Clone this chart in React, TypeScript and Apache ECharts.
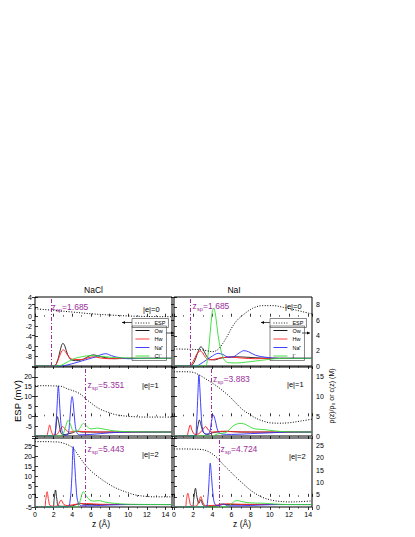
import React, { useEffect, useRef } from "react";
import * as echarts from "echarts";

const FONT = '"Liberation Sans", Arial, Helvetica, sans-serif';
const PURPLE = "#9a2f9a";

// ---------- axes / ticks ----------
const zTicks = [0, 2, 4, 6, 8, 10, 12, 14];
const zMaxNaCl = 14.7;
const zMaxNaI = 14.4;
const espRangeRows = [[-10, 4], [-10, 25], [-5, 29]];
const espIntervalRows = [2, 5, 5];
const espTickLabelRows = [[-8, -6, -4, -2, 0, 2, 4], [-5, 0, 5, 10, 15, 20], [-5, 0, 5, 10, 15, 20, 25]];
const rhoRangeRows = [[0, 9], [0, 17.5], [0, 28]];
const rhoIntervalRows = [2, 5, 5];
const rhoTickLabelRows = [[0, 2, 4, 6, 8], [0, 5, 10, 15], [0, 5, 10, 15, 20, 25]];

const saltNames = ["NaCl", "NaI"];
const chargeLabels = ["|e|=0", "|e|=1", "|e|=2"];
const zspNaCl = [1.685, 5.351, 5.443];
const zspNaI = [1.685, 3.883, 4.724];
const anionNames = ["Cl⁻", "I⁻"];

// ---------- NaCl |e|=0 ----------
const espNaCl0 = [[0, 1.6], [2, 1.3], [4, 0.95], [6, 0.6], [8, 0.35], [10, 0.15], [12, 0.05], [14.7, 0]];
const owNaCl0 = [[0, 0], [2.0, 0], [2.3, 0.3], [2.6, 1.5], [2.85, 2.7], [3.0, 2.95], [3.2, 2.6], [3.5, 1.5], [3.9, 0.8], [4.5, 0.7], [5.2, 0.9], [5.8, 1.3], [6.3, 1.45], [6.8, 1.3], [7.5, 1.1], [8.5, 0.95], [10, 1.0], [12, 1.0], [14.7, 1.0]];
const hwNaCl0 = [[0, 0], [2.0, 0], [2.3, 0.3], [2.6, 1.2], [2.9, 2.0], [3.05, 2.1], [3.3, 1.8], [3.7, 1.1], [4.2, 0.85], [5.0, 0.85], [5.8, 1.1], [6.3, 1.2], [7.0, 1.05], [8, 0.95], [10, 1.0], [14.7, 1.0]];
const naNaCl0 = [[0, 0], [2.8, 0], [3.5, 0.15], [4.3, 0.4], [5.0, 0.65], [5.7, 0.9], [6.4, 1.15], [7.0, 1.45], [7.6, 1.6], [8.2, 1.35], [8.6, 1.2], [9.3, 1.05], [10, 0.95], [12, 1.0], [14.7, 1.0]];
const clNaCl0 = [[0, 0], [2.4, 0], [3.0, 0.2], [3.6, 0.6], [4.3, 1.0], [5.0, 1.2], [5.9, 1.35], [6.8, 1.3], [7.6, 1.2], [8.5, 1.1], [10, 1.05], [12, 1.0], [14.7, 1.0]];

// ---------- NaI |e|=0 ----------
const espNaI0 = [[0, -6.55], [1.6, -6.6], [3.0, -6.75], [4.05, -7.1], [4.6, -6.6], [5.1, -5.4], [5.6, -3.8], [6.1, -2.0], [6.6, -0.7], [7.2, 0.35], [8.2, 1.7], [9.25, 2.25], [10.3, 2.25], [11.4, 1.9], [12.7, 1.35], [14.4, 0.55]];
const owNaI0 = [[0, 0], [1.7, 0], [2.1, 0.5], [2.5, 1.8], [2.8, 2.5], [3.0, 2.3], [3.3, 1.5], [3.7, 0.9], [4.2, 0.8], [4.8, 1.0], [5.5, 1.15], [6.5, 1.2], [7.5, 1.15], [9, 1.05], [11, 1.0], [14.4, 1.0]];
const hwNaI0 = [[0, 0], [1.6, 0], [2.0, 0.6], [2.4, 1.6], [2.75, 1.95], [3.0, 1.7], [3.3, 1.1], [3.7, 0.8], [4.3, 0.9], [5.0, 1.1], [6, 1.15], [7, 1.05], [8.5, 0.95], [10, 1.0], [14.4, 1.0]];
const naNaI0 = [[0, 0], [2.3, 0], [2.8, 0.3], [3.4, 0.8], [4.0, 1.3], [4.6, 1.65], [5.1, 1.5], [5.7, 1.15], [6.2, 1.2], [6.8, 1.7], [7.3, 2.0], [7.8, 1.85], [8.5, 1.4], [9.5, 1.15], [11, 1.0], [14.4, 1.0]];
const iNaI0 = [[0, 0], [3.2, 0], [3.5, 1.0], [3.75, 4.0], [4.0, 7.2], [4.15, 7.5], [4.35, 6.5], [4.6, 4.0], [4.9, 2.0], [5.2, 0.9], [5.6, 0.45], [6.5, 0.4], [7.5, 0.5], [8.5, 0.65], [9.5, 0.8], [10.5, 0.95], [12, 1.0], [14.4, 1.0]];

// ---------- NaCl |e|=1 ----------
const espNaCl1 = [[0, 15.5], [1, 15.5], [2, 15.4], [2.8, 15.2], [3.5, 13.9], [4.5, 12.2], [5.0, 10.8], [5.5, 8.6], [6, 6.8], [6.5, 5.0], [7, 3.6], [7.5, 2.6], [8, 1.8], [8.5, 1.0], [9, 0.5], [10, 0], [11, -0.3], [12, -0.4], [13, -0.4], [14.7, -0.4]];
const owNaCl1 = [[0, 0], [2.0, 0], [2.2, 1.5], [2.4, 4.9], [2.55, 3.5], [2.75, 1.0], [3.0, 0.3], [3.5, 0.5], [4.0, 0.8], [4.5, 1.2], [5.0, 1.0], [6, 1.0], [14.7, 1.0]];
const hwNaCl1 = [[0, 0], [1.2, 0], [1.4, 1.2], [1.57, 2.8], [1.75, 1.2], [2.0, 0.2], [2.3, 0.3], [2.6, 1.2], [2.95, 2.4], [3.3, 1.6], [3.7, 1.0], [4.5, 1.2], [5.5, 1.1], [7, 1.0], [14.7, 1.0]];
const naNaCl1 = [[0, 0], [2.05, 0], [2.25, 3], [2.4, 9], [2.5, 12.7], [2.6, 10], [2.75, 4], [2.95, 0.8], [3.2, 0.2], [3.5, 0.3], [3.7, 3], [3.85, 8], [3.98, 10], [4.1, 8.5], [4.3, 3], [4.5, 0.8], [4.8, 0.3], [6, 0.4], [8, 0.8], [10, 1.0], [14.7, 1.0]];
const clNaCl1 = [[0, 0], [2.6, 0], [3.0, 0.5], [3.3, 2.5], [3.55, 4.0], [3.8, 3.0], [4.1, 1.3], [4.5, 1.2], [4.9, 2.3], [5.2, 3.2], [5.5, 2.6], [6.0, 1.8], [6.7, 2.0], [7.5, 1.7], [8.5, 1.3], [10, 1.1], [14.7, 1.0]];

// ---------- NaI |e|=1 ----------
const espNaI1 = [[0, 22.6], [1, 22.6], [2, 22.3], [2.65, 20.9], [3.3, 19.0], [4.05, 16.7], [5, 13.3], [5.8, 10.0], [6.5, 6.5], [7.2, 3.2], [7.9, 1.0], [8.55, -1.0], [9.3, -2.4], [10, -3.3], [11, -3.5], [12, -3.3], [12.7, -2.8], [13.5, -2.2], [14.4, -1.5]];
const owNaI1 = [[0, 0], [2.2, 0], [2.45, 2.0], [2.65, 4.06], [2.85, 2.5], [3.1, 0.8], [3.5, 0.4], [4.0, 0.8], [4.5, 1.0], [5.5, 1.2], [7, 1.0], [14.4, 1.0]];
const hwNaI1 = [[0, 0], [1.3, 0], [1.5, 1.3], [1.7, 2.8], [1.9, 1.3], [2.2, 0.4], [2.6, 0.6], [3.0, 1.6], [3.3, 2.4], [3.6, 1.5], [4.0, 1.0], [5, 1.2], [6, 1.1], [8, 1.0], [14.4, 1.0]];
const naNaI1 = [[0, 0], [2.2, 0], [2.35, 3], [2.5, 11], [2.6, 15.5], [2.7, 12], [2.85, 5], [3.0, 1.5], [3.3, 0.5], [3.7, 0.8], [3.9, 3.5], [4.1, 5.3], [4.3, 4.0], [4.6, 1.2], [5.0, 0.5], [6, 0.4], [8, 0.6], [10, 0.8], [12, 1.0], [14.4, 1.0]];
const iNaI1 = [[0, 0], [4.0, 0], [4.5, 0.5], [5.0, 0.7], [5.5, 1.0], [6.0, 2.2], [6.5, 3.0], [7.0, 3.2], [7.5, 2.9], [8.0, 2.2], [8.5, 1.8], [9.5, 1.6], [10.5, 1.3], [11.5, 1.1], [14.4, 1.0]];

// ---------- NaCl |e|=2 ----------
const espNaCl2 = [[0, 27.2], [1, 27.2], [2, 27.1], [2.5, 27.0], [3.0, 26.5], [3.55, 25.6], [4.1, 24.0], [4.5, 21.5], [5.0, 18.2], [5.5, 15.2], [6.1, 12.4], [6.8, 9.8], [7.5, 7.5], [8.2, 5.5], [9.0, 3.7], [10, 2.0], [10.8, 0.9], [12, 0.2], [13, 0], [14.7, 0]];
const owNaCl2 = [[0, 0], [1.9, 0], [2.05, 3], [2.2, 6.9], [2.35, 3], [2.5, 0.5], [3.0, 0.3], [4, 0.5], [4.6, 1.2], [4.9, 1.5], [5.3, 1.0], [6, 1.0], [14.7, 1.0]];
const hwNaCl2 = [[0, 0], [1.0, 0], [1.15, 3], [1.3, 6.2], [1.45, 3], [1.65, 0.5], [2.2, 0.3], [2.5, 1.0], [2.8, 2.8], [3.1, 1.0], [3.5, 0.6], [4.5, 1.2], [5.5, 1.4], [7, 1.1], [14.7, 1.0]];
const naNaCl2 = [[0, 0], [3.5, 0], [3.75, 2], [3.95, 12], [4.1, 24.5], [4.25, 18], [4.45, 6], [4.65, 1.5], [5.0, 0.5], [6, 0.5], [8, 0.8], [10, 1.0], [14.7, 1.0]];
const clNaCl2 = [[0, 0], [4.5, 0], [4.8, 2.0], [5.2, 6.2], [5.5, 4.5], [5.9, 2.8], [6.4, 2.4], [6.9, 2.6], [7.5, 2.0], [8.5, 1.5], [10, 1.1], [14.7, 1.0]];

// ---------- NaI |e|=2 ----------
const espNaI2 = [[0, 23.6], [1, 23.6], [2, 23.5], [2.95, 23.3], [3.5, 22.5], [4.05, 21], [4.6, 18.8], [5.1, 16.1], [5.8, 12.8], [6.5, 9.5], [7.2, 6.5], [7.85, 3.8], [8.5, 1.6], [9.25, -0.3], [10, -1.4], [10.6, -2.0], [12, -2.5], [13, -2.4], [14.4, -2.0]];
const owNaI2 = [[0, 0], [1.9, 0], [2.05, 3], [2.24, 7.6], [2.4, 4], [2.6, 1.5], [2.8, 3], [3.0, 1.0], [3.3, 0.3], [4.5, 0.5], [4.9, 1.2], [5.3, 1.0], [6.5, 1.0], [14.4, 1.0]];
const hwNaI2 = [[0, 0], [1.15, 0], [1.3, 3], [1.44, 5.6], [1.6, 3], [1.8, 0.5], [2.3, 0.3], [2.6, 2.5], [2.8, 4.2], [3.0, 2.0], [3.3, 0.5], [4.5, 0.8], [5.5, 1.3], [7, 1.1], [14.4, 1.0]];
const naNaI2 = [[0, 0], [3.3, 0], [3.5, 2], [3.65, 10], [3.78, 17.8], [3.92, 12], [4.1, 4], [4.3, 1.0], [4.7, 0.5], [5.2, 1.2], [5.6, 0.5], [7, 0.5], [9, 0.8], [11, 1.0], [14.4, 1.0]];
const iNaI2 = [[0, 0], [5.5, 0], [5.9, 1.0], [6.3, 2.3], [6.6, 2.6], [7.0, 2.3], [7.6, 1.8], [8.5, 1.6], [9.5, 1.5], [10.5, 1.2], [12, 1.0], [14.4, 1.0]];

// ---------- layout (not data) ----------
const colLeft = [35, 174];
const colWidth = [137, 138];
const rowTop = [297, 367, 438];
const rowH = 69;
const zspLabelPos = [[51.5, 307], [192.5, 306], [87.5, 385], [213, 379], [87.5, 449], [220.5, 449]];
const chargeLabelPos = [[143, 309], [285, 306], [142, 385], [287, 384], [142, 454], [289, 456.5]];

const panels = [
  { r: 0, c: 0, esp: espNaCl0, ow: owNaCl0, hw: hwNaCl0, na: naNaCl0, an: anionNames[0], anData: clNaCl0, zsp: zspNaCl[0] },
  { r: 0, c: 1, esp: espNaI0, ow: owNaI0, hw: hwNaI0, na: naNaI0, an: anionNames[1], anData: iNaI0, zsp: zspNaI[0] },
  { r: 1, c: 0, esp: espNaCl1, ow: owNaCl1, hw: hwNaCl1, na: naNaCl1, an: anionNames[0], anData: clNaCl1, zsp: zspNaCl[1] },
  { r: 1, c: 1, esp: espNaI1, ow: owNaI1, hw: hwNaI1, na: naNaI1, an: anionNames[1], anData: iNaI1, zsp: zspNaI[1] },
  { r: 2, c: 0, esp: espNaCl2, ow: owNaCl2, hw: hwNaCl2, na: naNaCl2, an: anionNames[0], anData: clNaCl2, zsp: zspNaCl[2] },
  { r: 2, c: 1, esp: espNaI2, ow: owNaI2, hw: hwNaI2, na: naNaI2, an: anionNames[1], anData: iNaI2, zsp: zspNaI[2] },
];

function buildOption() {
  const grid: any[] = [];
  const xAxis: any[] = [];
  const yAxis: any[] = [];
  const series: any[] = [];
  const graphic: any[] = [];

  const tickStyle = { color: "#000", width: 0.8 };
  const labelBase = { fontSize: 7, color: "#000", fontFamily: FONT };

  panels.forEach((p, g) => {
    grid.push({
      left: colLeft[p.c], top: rowTop[p.r], width: colWidth[p.c], height: rowH,
      show: true, borderColor: "#000", borderWidth: 1, backgroundColor: "transparent",
      containLabel: false, outerBoundsMode: "none",
    });
    const zMax = p.c === 0 ? zMaxNaCl : zMaxNaI;
    const xBase = {
      type: "value", gridIndex: g, min: 0, max: zMax, interval: 2,
      axisLine: { show: false }, splitLine: { show: false },
      axisTick: { inside: true, length: 3, lineStyle: tickStyle },
      minorTick: { show: true, splitNumber: 2, length: 1.6, lineStyle: { color: "#000", width: 0.6 } },
    };
    xAxis.push({
      ...xBase, position: "bottom",
      axisLabel: { ...labelBase, show: p.r === 2, margin: 4, formatter: (v: number) => (zTicks.includes(v) ? String(v) : "") },
    });
    xAxis.push({ ...xBase, position: "top", axisLabel: { show: false } });

    const er = espRangeRows[p.r];
    const rr = rhoRangeRows[p.r];
    yAxis.push({
      type: "value", gridIndex: g, position: "left", min: er[0], max: er[1], interval: espIntervalRows[p.r],
      axisLine: { show: false }, splitLine: { show: false },
      axisTick: { inside: true, length: 3, lineStyle: tickStyle },
      axisLabel: { ...labelBase, show: p.c === 0, margin: 3, formatter: (v: number) => (espTickLabelRows[p.r].includes(v) ? String(v) : "") },
    });
    yAxis.push({
      type: "value", gridIndex: g, position: "right", min: rr[0], max: rr[1], interval: rhoIntervalRows[p.r],
      axisLine: { show: false }, splitLine: { show: false },
      axisTick: { inside: true, length: 3, lineStyle: tickStyle },
      axisLabel: { ...labelBase, show: p.c === 1, margin: 4, formatter: (v: number) => (rhoTickLabelRows[p.r].includes(v) ? String(v) : "") },
    });

    const common = { type: "line", xAxisIndex: 2 * g, symbol: "none", showSymbol: false, smooth: 0.35, silent: true };
    series.push({
      ...common, name: "ESP", yAxisIndex: 2 * g, data: p.esp, z: 4,
      lineStyle: { color: "#000", width: 1, type: [1, 1.6] }, itemStyle: { color: "#000" },
      markLine: {
        symbol: ["none", "none"], silent: true, label: { show: false },
        lineStyle: { color: PURPLE, width: 1, type: [4, 2, 1, 2] },
        data: [{ xAxis: p.zsp }],
      },
    });
    series.push({ ...common, name: "Ow", yAxisIndex: 2 * g + 1, data: p.ow, lineStyle: { color: "#000", width: 0.8 }, itemStyle: { color: "#000" } });
    series.push({ ...common, name: "Hw", yAxisIndex: 2 * g + 1, data: p.hw, lineStyle: { color: "#ff2a2a", width: 1 }, itemStyle: { color: "#ff2a2a" } });
    series.push({ ...common, name: "Na⁺", yAxisIndex: 2 * g + 1, data: p.na, lineStyle: { color: "#2d2dff", width: 0.9 }, itemStyle: { color: "#2d2dff" } });
    series.push({ ...common, name: p.an, yAxisIndex: 2 * g + 1, data: p.anData, lineStyle: { color: "#33dd33", width: 0.9 }, itemStyle: { color: "#33dd33" } });

    const [zx, zy] = zspLabelPos[g];
    const t = (x: number, y: number, text: string, size: number, fill: string) => ({
      type: "text", x, y, silent: true,
      style: { text, fontSize: size, fontFamily: FONT, fill, align: "left", verticalAlign: "middle", textAlign: "left", textVerticalAlign: "middle" },
    });
    graphic.push(t(zx, zy, "z", 8.5, PURPLE));
    graphic.push(t(zx + 4.4, zy + 2.6, "sp", 5.5, PURPLE));
    graphic.push(t(zx + 10.6, zy, "=" + p.zsp.toFixed(3), 8.5, PURPLE));
    const [cx, cy] = chargeLabelPos[g];
    graphic.push(t(cx, cy, chargeLabels[p.r], 7.5, "#000000"));
  });

  const ctext = (x: number, y: number, text: string, size: number, rot = 0) => ({
    type: "text", x, y, rotation: rot, silent: true,
    style: { text, fontSize: size, fontFamily: FONT, fill: "#000", align: "center", verticalAlign: "middle", textAlign: "center", textVerticalAlign: "middle" },
  });
  graphic.push(ctext(93.5, 290, saltNames[0], 8.5));
  graphic.push(ctext(234, 290, saltNames[1], 8.5));
  graphic.push(ctext(17, 401, "ESP (mV)", 9.5, Math.PI / 2));
  graphic.push(ctext(331, 396, "ρ(z)/ρ₀ or c(z) (M)", 7, Math.PI / 2));
  graphic.push(ctext(101, 524, "z (Å)", 8.5));
  graphic.push(ctext(242, 524, "z (Å)", 8.5));

  const arrow = (x1: number, x2: number, y: number, headLeft: boolean) => {
    const hx = headLeft ? x1 : x2;
    const d = headLeft ? 3 : -3;
    return [
      { type: "line", silent: true, shape: { x1, y1: y, x2, y2: y }, style: { stroke: "#000", lineWidth: 0.7 } },
      { type: "polygon", silent: true, shape: { points: [[hx, y], [hx + d, y - 1.4], [hx + d, y + 1.4]] }, style: { fill: "#000" } },
    ];
  };
  graphic.push(...arrow(122, 132, 322.5, true));
  graphic.push(...arrow(166, 174, 333, false));
  graphic.push(...arrow(261, 270, 322.5, true));
  graphic.push(...arrow(302, 310, 333, false));

  const legendBase = {
    itemWidth: 14, itemHeight: 5, itemGap: 2.5, padding: [1.5, 3, 1.5, 3],
    borderColor: "#555", borderWidth: 0.7, selectedMode: false,
    itemStyle: { opacity: 0 },
    lineStyle: { width: 0.9, color: "inherit", type: "inherit", opacity: "inherit" },
    textStyle: { fontSize: 5.5, color: "#000", fontFamily: FONT },
  };
  const legend = [
    { ...legendBase, left: 132, top: 318.5, data: ["ESP"] },
    { ...legendBase, left: 132, top: 326, orient: "vertical", data: ["Ow", "Hw", "Na⁺", anionNames[0]] },
    { ...legendBase, left: 270, top: 318.5, data: ["ESP"] },
    { ...legendBase, left: 270, top: 326, orient: "vertical", data: ["Ow", "Hw", "Na⁺", anionNames[1]] },
  ];

  return {
    animation: false,
    backgroundColor: "#fff",
    textStyle: { fontFamily: FONT },
    grid, xAxis, yAxis, series, graphic, legend,
  };
}

export default function App() {
  const ref = useRef<HTMLDivElement>(null);
  useEffect(() => {
    document.body.style.margin = "0";
    if (!ref.current) return;
    const chart = echarts.init(ref.current, undefined, { renderer: "svg" });
    chart.setOption(buildOption() as any);
    return () => chart.dispose();
  }, []);
  return <div ref={ref} style={{ width: 415, height: 537 }} />;
}
